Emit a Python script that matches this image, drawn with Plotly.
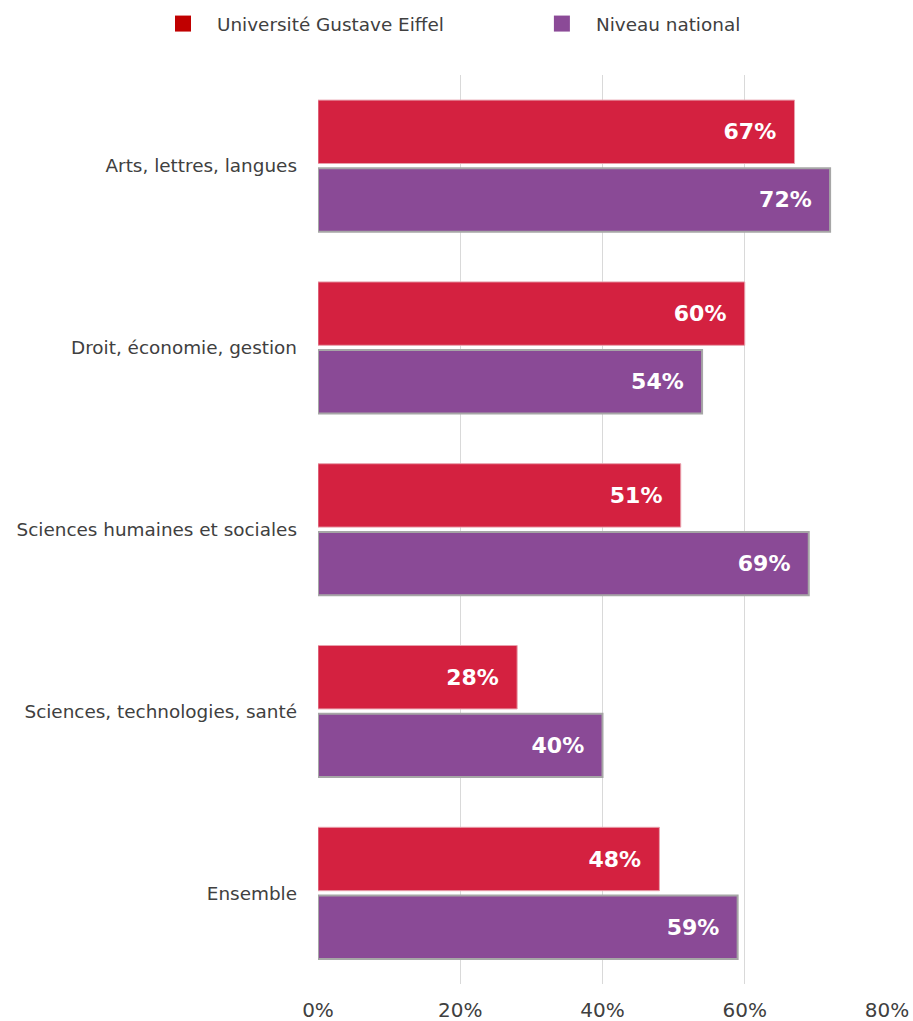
import plotly.graph_objects as go

categories = ["Arts, lettres, langues", "Droit, économie, gestion",
              "Sciences humaines et sociales", "Sciences, technologies, santé", "Ensemble"]
ugE = [67, 60, 51, 28, 48]
national = [72, 54, 69, 40, 59]
series_names = ["Université Gustave Eiffel", "Niveau national"]
tick_vals = [0, 20, 40, 60, 80]
tick_text = ["0%", "20%", "40%", "60%", "80%"]

FONT = "DejaVu Sans"
PAD = "\u00a0\u00a0"
fig = go.Figure()
fig.add_trace(go.Bar(
    y=categories, x=ugE, orientation="h", name=series_names[0], showlegend=False,
    marker=dict(color="#D42140", line=dict(color="#E8A0AC", width=1)),
    text=[f"{v}%{PAD}" for v in ugE], textposition="inside", insidetextanchor="end",
    textfont=dict(family=FONT, size=22, color="white", weight="bold"),
))
fig.add_trace(go.Bar(
    y=categories, x=national, orientation="h", name=series_names[1], showlegend=False,
    marker=dict(color="#8A4A96", line=dict(color="#A6A6A6", width=2)),
    text=[f"{v}%{PAD}" for v in national], textposition="inside", insidetextanchor="end",
    textfont=dict(family=FONT, size=22, color="white", weight="bold"),
))
# legend entries (two separate legends to position them freely)
for name, col, lg in zip(series_names, ["#C00000", "#8B4A97"], ["legend", "legend2"]):
    fig.add_trace(go.Scatter(x=[None], y=[None], mode="markers", name=name, legend=lg,
                             marker=dict(symbol="square", size=22, color=col)))

leg_common = dict(orientation="h", xref="container", xanchor="left",
                  yref="container", y=0.995, yanchor="top", itemwidth=58,
                  itemsizing="trace",
                  font=dict(size=18.4, color="#404040"), bgcolor="rgba(0,0,0,0)")
fig.update_layout(
    width=913, height=1021,
    margin=dict(l=318, r=26, t=75, b=37, autoexpand=False),
    paper_bgcolor="white", plot_bgcolor="white",
    barmode="group", bargap=0.25, bargroupgap=0.07,
    font=dict(family=FONT, size=18.4, color="#404040"),
    uniformtext=dict(minsize=22, mode="show"),
    legend=dict(x=0.1632, **leg_common),
    legend2=dict(x=0.5782, **leg_common),
    xaxis=dict(range=[0, 80], tickvals=tick_vals, ticktext=tick_text,
               showgrid=True, gridcolor="#D9D9D9", gridwidth=1, zeroline=False,
               showline=False, ticklabelstandoff=12, tickfont=dict(size=20),
               automargin=False),
    yaxis=dict(autorange="reversed", showgrid=False, showline=False, ticks="",
               ticklabelstandoff=20, automargin=False),
)
fig.write_html("out.html", config={"displayModeBar": False},
               post_script="document.body.style.margin='0px';document.body.style.overflow='hidden';")
